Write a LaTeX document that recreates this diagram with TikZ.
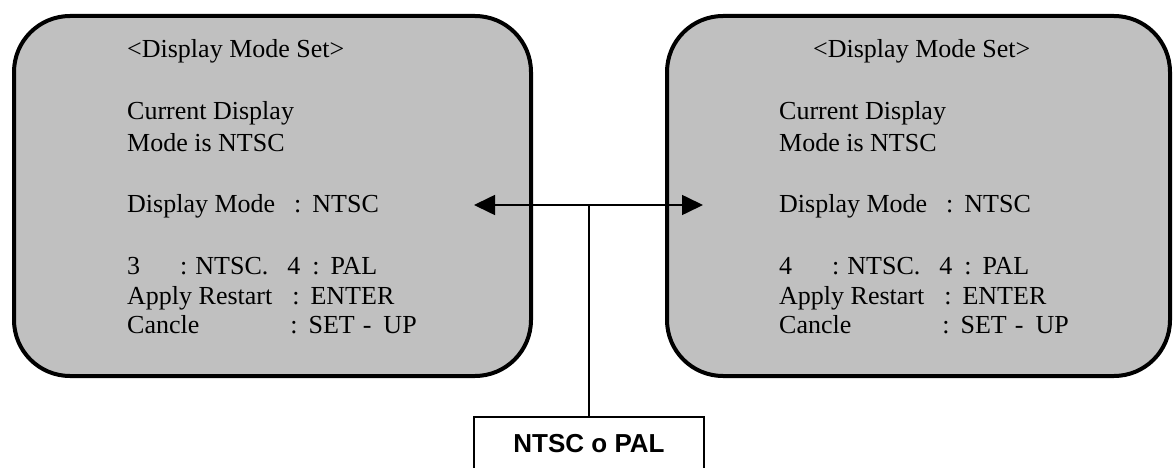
\documentclass[tikz,border=0pt]{standalone}
\usepackage{fontspec}
\setmainfont{Liberation Serif}
\newfontfamily\arialfont{Liberation Sans}
\usetikzlibrary{arrows.meta}
\definecolor{screengray}{HTML}{C0C0C0}
\tikzset{
  screen/.style={draw=black, line width=4pt, fill=screengray, rounded corners=56pt},
  txt/.style={anchor=base west, inner sep=0pt, font=\fontsize{26}{30}\selectfont},
  conn/.style={line width=1.6pt, draw=black},
  tip/.style={-{Triangle[length=21pt,width=20pt]}},
  labelbox/.style={draw=black, line width=1.5pt, fill=white, anchor=north, inner sep=0pt,
    minimum width=230pt, text height=36pt, text depth=34pt, font=\arialfont\bfseries\fontsize{26}{30}\selectfont}
}
\begin{document}
\begin{tikzpicture}[x=1pt,y=1pt]
\clip (0,0) rectangle (1175,-468);
\fill[white] (0,0) rectangle (1175,-468);
% screens
\draw[screen] (14,-16) rectangle (531,-376);
\draw[screen] (667,-16) rectangle (1170,-376);
% left texts
\node[txt] (l1) at (127,-58) {<Display Mode Set>};
\node[txt] (l2) at (127,-120) {Current Display};
\node[txt] (l3) at (127,-152) {Mode is NTSC};
\node[txt] (l4) at (127,-212) {Display Mode\hspace{19pt}:\hspace{11pt}NTSC};
\node[txt] (l5) at (127,-274) {3\hspace{40pt}:\hspace{8pt}NTSC.\hspace{19pt}4\hspace{12pt}:\hspace{11pt}PAL};
\node[txt] (l6) at (127,-304) {Apply Restart\hspace{20pt}:\hspace{11pt}ENTER};
\node[txt] (l7) at (127,-333) {Cancle\hspace{91pt}:\hspace{11pt}SET\hspace{8pt}-\hspace{12pt}UP};
% right texts
\node[txt] (r1) at (813,-58) {<Display Mode Set>};
\node[txt] (r2) at (779,-120) {Current Display};
\node[txt] (r3) at (779,-152) {Mode is NTSC};
\node[txt] (r4) at (779,-212) {Display Mode\hspace{19pt}:\hspace{11pt}NTSC};
\node[txt] (r5) at (779,-274) {4\hspace{40pt}:\hspace{8pt}NTSC.\hspace{19pt}4\hspace{12pt}:\hspace{11pt}PAL};
\node[txt] (r6) at (779,-304) {Apply Restart\hspace{20pt}:\hspace{11pt}ENTER};
\node[txt] (r7) at (779,-333) {Cancle\hspace{91pt}:\hspace{11pt}SET\hspace{8pt}-\hspace{12pt}UP};
% connector
\coordinate (la) at (474,-205);
\coordinate (ra) at (703,-205);
\coordinate (jn) at (589,-205);
\node[labelbox] (np) at (589,-416) {NTSC o PAL};
\draw[conn, tip] (jn) -- (la);
\draw[conn, tip] (jn) -- (ra);
\draw[conn] (jn) -- (np.north);
\end{tikzpicture}
\end{document}
